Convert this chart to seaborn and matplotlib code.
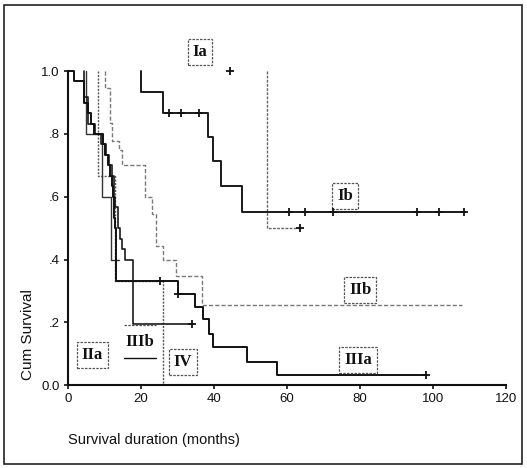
import numpy as np
import pandas as pd
import matplotlib
matplotlib.use("Agg")
import matplotlib.pyplot as plt
import seaborn as sns
from matplotlib.patches import Rectangle

# Kaplan-Meier step data (months, cumulative survival)
ia_start, ia_end = 54.4, 63.5
ia_time = [54.4]
ia_surv = [0.50]
ia_cens_time = [44.4, 63.5]
ia_cens_surv = [1.0, 0.50]

ib_start, ib_end = 20.0, 108.8
ib_time = [20.0, 26.0, 38.4, 39.8, 41.9, 47.7]
ib_surv = [0.933, 0.867, 0.79, 0.714, 0.633, 0.552]
ib_cens_time = [27.7, 31.0, 36.0, 60.5, 65.0, 72.6, 95.6, 101.6, 108.5]
ib_cens_surv = [0.867, 0.867, 0.867, 0.552, 0.552, 0.552, 0.552, 0.552, 0.552]

iia_start, iia_end = 4.9, 14.0
iia_time = [4.9, 9.2, 11.8]
iia_surv = [0.80, 0.60, 0.40]

iib_start, iib_end = 10.2, 108.0
iib_time = [10.2, 11.4, 12.0, 14.0, 14.8, 21.1, 22.9, 24.1, 26.1, 29.6, 36.6]
iib_surv = [0.946, 0.835, 0.778, 0.75, 0.70, 0.60, 0.545, 0.444, 0.397, 0.349, 0.255]

iiia_start, iiia_end = 0.0, 98.0
iiia_time = [1.6, 4.3, 5.6, 6.3, 7.2, 9.5, 10.2, 11.0, 11.5, 12.0, 12.2, 12.5, 12.7,
             12.9, 13.2, 30.2, 34.8, 36.9, 38.7, 39.6, 49.0, 57.2]
iiia_surv = [0.967, 0.90, 0.867, 0.833, 0.80, 0.767, 0.733, 0.70, 0.667, 0.633, 0.60,
             0.567, 0.533, 0.50, 0.333, 0.291, 0.25, 0.212, 0.164, 0.122, 0.074, 0.032]
iiia_cens_time = [25.2, 30.2, 98.0]
iiia_cens_surv = [0.333, 0.291, 0.032]

iiib_start, iiib_end = 4.3, 33.9
iiib_time = [4.3, 5.6, 7.5, 9.0, 10.5, 11.3, 12.0, 12.6, 13.0, 13.6, 14.2, 14.8, 15.6, 17.9]
iiib_surv = [0.917, 0.833, 0.80, 0.767, 0.733, 0.70, 0.667, 0.60, 0.567, 0.50, 0.467,
             0.433, 0.40, 0.196]
iiib_cens_time = [33.9]
iiib_cens_surv = [0.196]

iv_start, iv_end = 8.1, 26.1
iv_time = [8.1, 12.9, 26.1]
iv_surv = [0.667, 0.333, 0.0]

x_ticks = [0, 20, 40, 60, 80, 100, 120]
y_ticks = [0.0, 0.2, 0.4, 0.6, 0.8, 1.0]
y_tick_labels = ["0.0", ".2", ".4", ".6", ".8", "1.0"]

# label boxes: text, x (months), y (survival)
box_labels = ["Ia", "Ib", "IIb", "IIIa", "IIa", "IIIb", "IV"]
box_x = [36.2, 75.9, 80.1, 79.5, 6.7, 19.7, 31.5]
box_y = [1.06, 0.603, 0.303, 0.081, 0.097, 0.137, 0.073]


def km_frame(start, times, surv, end):
    x = [start] + list(times) + [end]
    y = [1.0] + list(surv) + [surv[-1]]
    return pd.DataFrame({"month": x, "surv": y})


sns.set_theme(style="white")
plt.rcParams["font.family"] = ["Liberation Sans", "DejaVu Sans"]

fig = plt.figure(figsize=(5.27, 4.68), dpi=100)
ax = fig.add_axes([0.129, 0.177, 0.831, 0.671])

curves = [
    (km_frame(iv_start, iv_time, iv_surv, iv_end), "#555555", (0, (1.5, 1)), 1.0),
    (km_frame(iia_start, iia_time, iia_surv, iia_end), "#333333", "-", 1.0),
    (km_frame(iib_start, iib_time, iib_surv, iib_end), "#7a7a7a", (0, (3, 1.5)), 1.0),
    (km_frame(ia_start, ia_time, ia_surv, ia_end), "#666666", (0, (2, 1)), 1.0),
    (km_frame(iiib_start, iiib_time, iiib_surv, iiib_end), "#1a1a1a", "-", 1.2),
    (km_frame(iiia_start, iiia_time, iiia_surv, iiia_end), "#111111", "-", 1.4),
    (km_frame(ib_start, ib_time, ib_surv, ib_end), "#1a1a1a", "-", 1.4),
]
for df, col, ls, lw in curves:
    sns.lineplot(data=df, x="month", y="surv", estimator=None, sort=False,
                 drawstyle="steps-post", color=col, linestyle=ls, linewidth=lw,
                 ax=ax, clip_on=False)

cens_t = ia_cens_time + ib_cens_time + iiia_cens_time + iiib_cens_time
cens_s = ia_cens_surv + ib_cens_surv + iiia_cens_surv + iiib_cens_surv
sns.scatterplot(x=cens_t, y=cens_s, marker="+", s=36, color="#111111",
                linewidth=1.3, ax=ax, clip_on=False, zorder=5)

ax.set_xlim(0, 120)
ax.set_ylim(0, 1.0)
ax.set_xticks(x_ticks)
ax.set_xticklabels([str(t) for t in x_ticks])
ax.set_yticks(y_ticks)
ax.set_yticklabels(y_tick_labels)
ax.tick_params(bottom=True, left=True, length=3, width=1.2, labelsize=9.5,
               colors="#111111", pad=3)
ax.set_xlabel("")
ax.set_ylabel("")
sns.despine(ax=ax)
for side in ["left", "bottom"]:
    ax.spines[side].set_color("#111111")
    ax.spines[side].set_linewidth(1.5)

for lab, bx, by in zip(box_labels, box_x, box_y):
    if lab == "IIIb":
        ax.text(bx, by, lab, ha="center", va="center", fontsize=12, fontweight="bold",
                family="Liberation Serif", color="#111111")
        ax.plot([bx - 4.4, bx + 4.4], [by + 0.055, by + 0.055], color="#555555",
                lw=0.9, ls=(0, (2, 1)))
        ax.plot([bx - 4.4, bx + 4.4], [by - 0.05, by - 0.05], color="#111111", lw=1.0)
    else:
        ax.text(bx, by, lab, ha="center", va="center", fontsize=12, fontweight="bold",
                family="Liberation Serif", color="#111111", clip_on=False,
                bbox=dict(boxstyle="square,pad=0.3", facecolor="white",
                          edgecolor="#555555", linestyle=(0, (2, 1)), linewidth=0.9))

fig.text(0.054, 0.285, "Cum Survival", rotation=90, ha="center", va="center",
         fontsize=11, color="#111111")
fig.text(0.129, 0.06, "Survival duration (months)", ha="left", va="center",
         fontsize=10.5, color="#111111")

fig.patches.append(Rectangle((0.008, 0.008), 0.982, 0.982, transform=fig.transFigure,
                             fill=False, edgecolor="#222222", linewidth=1.2))

fig.savefig("out.png", dpi=100)
